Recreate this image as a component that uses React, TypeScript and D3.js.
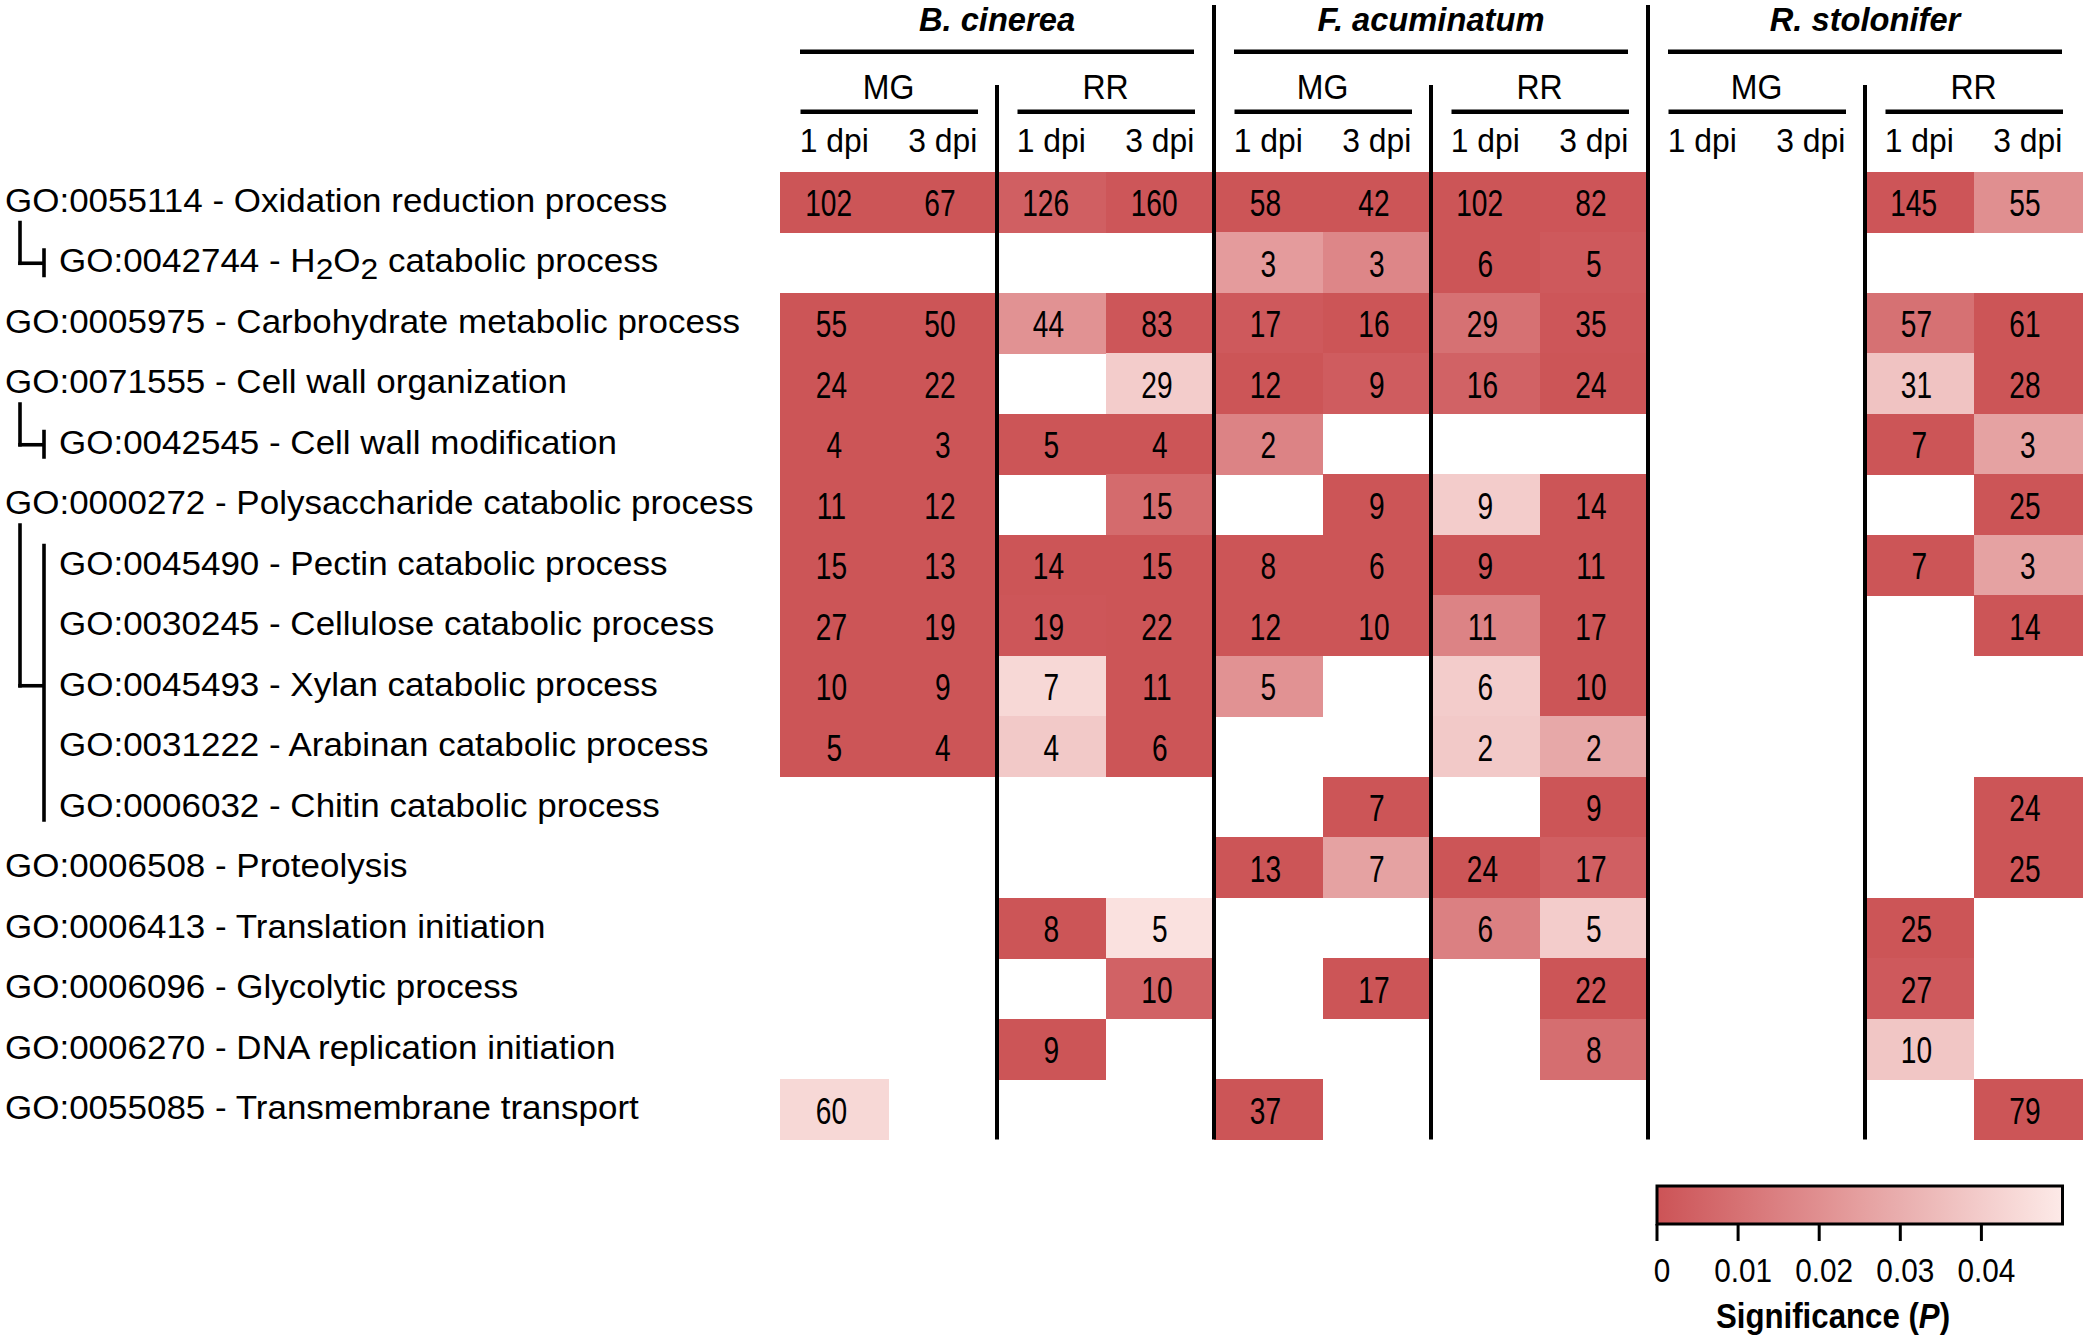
import React, { useEffect } from "react";
import * as d3 from "d3";

// ---------- data ----------
const goTerms = [
  "GO:0055114", "GO:0042744", "GO:0005975", "GO:0071555", "GO:0042545",
  "GO:0000272", "GO:0045490", "GO:0030245", "GO:0045493", "GO:0031222",
  "GO:0006032", "GO:0006508", "GO:0006413", "GO:0006096", "GO:0006270",
  "GO:0055085",
];
const goNames = [
  "Oxidation reduction process", "H2O2 catabolic process", "Carbohydrate metabolic process",
  "Cell wall organization", "Cell wall modification", "Polysaccharide catabolic process",
  "Pectin catabolic process", "Cellulose catabolic process", "Xylan catabolic process",
  "Arabinan catabolic process", "Chitin catabolic process", "Proteolysis",
  "Translation initiation", "Glycolytic process", "DNA replication initiation",
  "Transmembrane transport",
];
// indented child terms: [parentIndex, [children]]
const treeGroups: [number, number[]][] = [
  [0, [1]],
  [3, [4]],
  [5, [6, 7, 8, 9, 10]],
];
const species = ["B. cinerea", "F. acuminatum", "R. stolonifer"];
const stages = ["MG", "RR"];
const dpis = ["1 dpi", "3 dpi"];

// gene counts per GO term, columns: species x stage x dpi
const geneCounts: (number | null)[][] = [
  [102, 67, 126, 160, 58, 42, 102, 82, null, null, 145, 55],
  [null, null, null, null, 3, 3, 6, 5, null, null, null, null],
  [55, 50, 44, 83, 17, 16, 29, 35, null, null, 57, 61],
  [24, 22, null, 29, 12, 9, 16, 24, null, null, 31, 28],
  [4, 3, 5, 4, 2, null, null, null, null, null, 7, 3],
  [11, 12, null, 15, null, 9, 9, 14, null, null, null, 25],
  [15, 13, 14, 15, 8, 6, 9, 11, null, null, 7, 3],
  [27, 19, 19, 22, 12, 10, 11, 17, null, null, null, 14],
  [10, 9, 7, 11, 5, null, 6, 10, null, null, null, null],
  [5, 4, 4, 6, null, null, 2, 2, null, null, null, null],
  [null, null, null, null, null, 7, null, 9, null, null, null, 24],
  [null, null, null, null, 13, 7, 24, 17, null, null, null, 25],
  [null, null, 8, 5, null, null, 6, 5, null, null, 25, null],
  [null, null, null, 10, null, 17, null, 22, null, null, 27, null],
  [null, null, 9, null, null, null, null, 8, null, null, 10, null],
  [60, null, null, null, 37, null, null, null, null, null, null, 79],
];
// significance (P) per cell (estimated from colour)
const pValues: (number | null)[][] = [
  [0.0005, 0.0005, 0.004, 0.001, 0.0005, 0.0005, 0.0005, 0.0008, null, null, 0.0008, 0.02],
  [null, null, null, null, 0.024, 0.017, 0.0005, 0.002, null, null, null, null],
  [0.0005, 0.0005, 0.021, 0.001, 0.002, 0.0005, 0.01, 0.001, null, null, 0.01, 0.0005],
  [0.0005, 0.0005, null, 0.04, 0.0005, 0.003, 0.005, 0.0005, null, null, 0.037, 0.0005],
  [0.0005, 0.0005, 0.0005, 0.0005, 0.016, null, null, null, null, null, 0.0005, 0.026],
  [0.0005, 0.0005, null, 0.008, null, 0.0005, 0.04, 0.0005, null, null, null, 0.0005],
  [0.0005, 0.0005, 0.0005, 0.0005, 0.0005, 0.0005, 0.0005, 0.0005, null, null, 0.0005, 0.026],
  [0.0005, 0.0005, 0.001, 0.0005, 0.0005, 0.0005, 0.016, 0.0005, null, null, null, 0.0005],
  [0.0005, 0.0005, 0.044, 0.0005, 0.021, null, 0.04, 0.0005, null, null, null, null],
  [0.0005, 0.0005, 0.039, 0.0005, null, null, 0.039, 0.028, null, null, null, null],
  [null, null, null, null, null, 0.0005, null, 0.0005, null, null, null, 0.0005],
  [null, null, null, null, 0.0005, 0.026, 0.0005, 0.004, null, null, null, 0.0005],
  [null, null, 0.0005, 0.047, null, null, 0.015, 0.04, null, null, 0.0005, null],
  [null, null, null, 0.005, null, 0.0005, null, 0.0005, null, null, 0.002, null],
  [null, null, 0.0005, null, null, null, null, 0.009, null, null, 0.038, null],
  [0.044, null, null, null, 0.0005, null, null, null, null, null, null, 0.0005],
];
const colorTicks = [0, 0.01, 0.02, 0.03, 0.04];
const colorDomain = [0, 0.05];

// ---------- layout ----------
const W = 2087, H = 1342;
const FONT = "'Liberation Sans', Arial, Helvetica, sans-serif";
const gridLeft = 780, gridRight = 2082, gridTop = 171.5, gridBottom = 1139.5;
const DARK = "#CC5356", LIGHT = "#FDEAE8";

export default function App() {
  useEffect(() => {
    document.body.style.margin = "0";
  }, []);

  const colKeys: string[] = [];
  species.forEach((s) => stages.forEach((st) => dpis.forEach((d) => colKeys.push(`${s}|${st}|${d}`))));

  const x = d3.scaleBand<string>().domain(colKeys).range([gridLeft, gridRight]);
  const y = d3.scaleBand<string>().domain(goTerms).range([gridTop, gridBottom]);
  const cw = x.bandwidth();
  const rh = y.bandwidth();
  const color = d3.scaleLinear<string>().domain(colorDomain).range([DARK, LIGHT]).interpolate(d3.interpolateRgb);

  const speciesBand = d3.scaleBand<string>().domain(species).range([gridLeft, gridRight]);
  const childSet = new Set<number>();
  treeGroups.forEach(([, ch]) => ch.forEach((c) => childSet.add(c)));

  const cbX = d3.scaleLinear().domain(colorDomain).range([1657, 2062.5]);
  const cbTop = 1186, cbH = 38;
  const gradStops = d3.range(0, 1.0001, 0.1).map((t) => ({ off: t, c: color(colorDomain[0] + t * (colorDomain[1] - colorDomain[0])) }));

  const cells: React.ReactNode[] = [];
  const nums: React.ReactNode[] = [];
  geneCounts.forEach((row, ri) => {
    row.forEach((v, ci) => {
      const p = pValues[ri][ci];
      if (v == null || p == null) return;
      const cx = x(colKeys[ci])!;
      const cy = y(goTerms[ri])!;
      cells.push(<rect key={`c${ri}-${ci}`} x={cx} y={cy} width={cw + 0.6} height={rh + 0.6} fill={color(p)} />);
      const s = String(v);
      const off = -(s.length - 1) * 2.8;
      nums.push(
        <text key={`t${ri}-${ci}`} transform={`translate(${cx + cw / 2 + off},${cy + rh / 2 + 14.5}) scale(0.76,1)`}
          textAnchor="middle" fontSize={37} fill="#000">{s}</text>
      );
    });
  });

  const labels = goTerms.map((g, i) => {
    const cy = y(g)! + rh / 2 + 10;
    const lx = childSet.has(i) ? 59 : 5;
    const name = goNames[i];
    let content: React.ReactNode = `${g} - ${name}`;
    if (name.startsWith("H2O2")) {
      content = (
        <>
          {`${g} - H`}
          <tspan fontSize={30} dy={7}>2</tspan>
          <tspan dy={-7}>O</tspan>
          <tspan fontSize={30} dy={7}>2</tspan>
          <tspan dy={-7}>{name.slice(4)}</tspan>
        </>
      );
    }
    return (
      <text key={`l${i}`} transform={`translate(${lx},${cy}) scale(1.06,1)`} fontSize={33} fill="#000">{content}</text>
    );
  });

  const tree: React.ReactNode[] = [];
  treeGroups.forEach(([parent, ch], gi) => {
    const pc = y(goTerms[parent])! + rh / 2;
    const first = y(goTerms[ch[0]])! + rh / 2;
    const last = y(goTerms[ch[ch.length - 1]])! + rh / 2;
    const mid = y(goTerms[ch[Math.floor(ch.length / 2)]])! + rh / 2;
    const single = ch.length === 1;
    const joinY = single ? mid + 1 : mid;
    tree.push(
      <g key={`tr${gi}`} stroke="#000" strokeWidth={3.6} fill="none">
        <line x1={20} x2={20} y1={pc + 19} y2={joinY + 1.8} />
        <line x1={18.2} x2={44} y1={joinY} y2={joinY} />
        <line x1={44} x2={44} y1={first - (single ? 14 : 21)} y2={last + 15} />
      </g>
    );
  });

  const headers: React.ReactNode[] = [];
  species.forEach((s, si) => {
    const sx0 = speciesBand(s)!;
    const sw = speciesBand.bandwidth();
    headers.push(
      <text key={`sp${si}`} transform={`translate(${sx0 + sw / 2},${31}) scale(0.99,1)`} textAnchor="middle"
        fontSize={33} fontWeight="bold" fontStyle="italic">{s}</text>
    );
    headers.push(<line key={`spl${si}`} x1={sx0 + 20} x2={sx0 + sw - 20} y1={51.7} y2={51.7} stroke="#000" strokeWidth={4.5} />);
    stages.forEach((st, sti) => {
      const k1 = `${s}|${st}|${dpis[0]}`;
      const k2 = `${s}|${st}|${dpis[1]}`;
      const gx0 = x(k1)!;
      const gx1 = x(k2)! + cw;
      headers.push(
        <text key={`st${si}-${sti}`} transform={`translate(${(gx0 + gx1) / 2},${98.5}) scale(0.89,1)`} textAnchor="middle" fontSize={36}>{st}</text>
      );
      headers.push(<line key={`stl${si}-${sti}`} x1={gx0 + 20.5} x2={gx1 - 19} y1={111.7} y2={111.7} stroke="#000" strokeWidth={4.5} />);
      dpis.forEach((d, di) => {
        const k = `${s}|${st}|${d}`;
        headers.push(
          <text key={`d${si}-${sti}-${di}`} transform={`translate(${x(k)! + cw / 2},${151.5}) scale(0.965,1)`} textAnchor="middle" fontSize={33}>{d}</text>
        );
      });
    });
  });

  const vlines: React.ReactNode[] = [];
  species.forEach((s, si) => {
    const sx0 = speciesBand(s)!;
    const sw = speciesBand.bandwidth();
    vlines.push(<line key={`vs${si}`} x1={sx0 + sw / 2} x2={sx0 + sw / 2} y1={85} y2={gridBottom} stroke="#000" strokeWidth={4} />);
    if (si > 0) {
      vlines.push(<line key={`vp${si}`} x1={sx0} x2={sx0} y1={5} y2={gridBottom} stroke="#000" strokeWidth={4} />);
    }
  });

  return (
    <svg width={W} height={H} viewBox={`0 0 ${W} ${H}`} style={{ display: "block", position: "absolute", left: 0, top: 0, background: "#fff" }}
      fontFamily={FONT}>
      <defs>
        <linearGradient id="cbGrad" x1="0" x2="1" y1="0" y2="0">
          {gradStops.map((g, i) => <stop key={i} offset={g.off} stopColor={g.c} />)}
        </linearGradient>
      </defs>
      <rect x={0} y={0} width={W} height={H} fill="#fff" />
      <g shapeRendering="crispEdges">{cells}</g>
      <g>{nums}</g>
      <g>{labels}</g>
      {tree}
      {headers}
      {vlines}
      {/* colour bar */}
      <rect x={cbX(colorDomain[0])} y={cbTop} width={cbX(colorDomain[1]) - cbX(colorDomain[0])} height={cbH} fill="url(#cbGrad)" stroke="#000" strokeWidth={3} />
      {colorTicks.map((t, i) => (
        <g key={`ct${i}`}>
          <line x1={cbX(t)} x2={cbX(t)} y1={cbTop + cbH} y2={cbTop + cbH + 17} stroke="#000" strokeWidth={3} />
          <text transform={`translate(${cbX(t) + 5},${1282}) scale(0.875,1)`} textAnchor="middle" fontSize={34}>{String(t)}</text>
        </g>
      ))}
      <text transform={`translate(${1833},${1328}) scale(0.867,1)`} textAnchor="middle" fontSize={36} fontWeight="bold">
        Significance (<tspan fontStyle="italic">P</tspan>)
      </text>
    </svg>
  );
}
